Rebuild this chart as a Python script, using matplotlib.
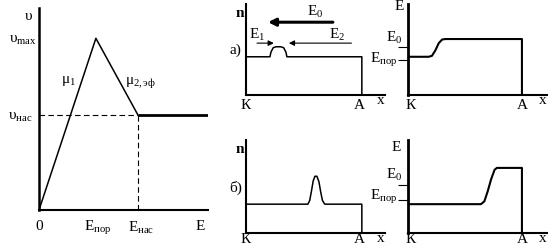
import matplotlib
matplotlib.use("Agg")
import matplotlib.pyplot as plt

plt.rcParams['font.family'] = ['Liberation Serif', 'DejaVu Serif']
plt.rcParams['mathtext.fontset'] = 'custom'
plt.rcParams['mathtext.rm'] = 'Liberation Serif'
plt.rcParams['mathtext.it'] = 'Liberation Serif:italic'

# left: drift velocity vs field strength
E_field = [0, 1.01, 1.757]
v_drift = [0, 0.85, 0.47]
E_flat = [1.757, 3.0]
v_flat = [0.47, 0.47]
E_thr, E_sat, v_sat = 1.01, 1.757, 0.47

# a) electron density along the sample, small domain near cathode
x_n_a = [0, 0.207, 0.215, 0.235, 0.26, 0.30, 0.325, 0.345, 0.353, 1.0, 1.0]
n_a = [0.42, 0.42, 0.47, 0.52, 0.53, 0.53, 0.52, 0.47, 0.42, 0.42, 0]
# a) field along the sample
x_E_a = [0, 0.18, 0.21, 0.24, 0.27, 0.30, 0.33, 1.0, 1.0]
E_a = [0.42, 0.42, 0.43, 0.49, 0.57, 0.61, 0.615, 0.615, 0]
E0_a, Ethr_a = 0.527, 0.385

# б) domain moved towards the anode
x_n_b = [0, 0.534, 0.55, 0.565, 0.58, 0.595, 0.612, 0.63, 0.645, 0.66, 0.68, 1.0, 1.0]
n_b = [0.31, 0.31, 0.35, 0.45, 0.56, 0.61, 0.61, 0.55, 0.44, 0.35, 0.31, 0.31, 0]
x_E_b = [0, 0.64, 0.67, 0.70, 0.73, 0.76, 0.78, 1.0, 1.0]
E_b = [0.31, 0.31, 0.34, 0.45, 0.58, 0.68, 0.70, 0.70, 0]
E0_b, Ethr_b = 0.516, 0.355

W, H = 548, 249
fig = plt.figure(figsize=(W / 100, H / 100), dpi=100)


def add_ax(x0, y_top, w, h):
    ax = fig.add_axes([x0 / W, 1 - (y_top + h) / H, w / W, h / H])
    ax.patch.set_alpha(0)
    for s in ['top', 'right']:
        ax.spines[s].set_visible(False)
    ax.set_xticks([])
    ax.set_yticks([])
    return ax


fs = 11
txt = dict(fontsize=fs, color='black')

# ---- left panel
ax = add_ax(39, 8, 169, 202)
ax.set_xlim(0, 3.0)
ax.set_ylim(0, 1)
ax.spines['left'].set_linewidth(1.8)
ax.spines['bottom'].set_linewidth(1.5)
ax.plot(E_field, v_drift, color='black', lw=1.1)
ax.plot(E_flat, v_flat, color='black', lw=2.0, solid_capstyle='butt')
ax.plot([0, E_sat], [v_sat, v_sat], color='black', lw=0.8, dashes=(5, 3))
ax.plot([E_sat, E_sat], [0, v_sat], color='black', lw=0.8, dashes=(5, 3))
ax.text(-0.18, 0.96, 'υ', ha='center', va='center', **txt)
ax.text(-0.03, 0.84, r'$\mathregular{υ_{max}}$', ha='right', va='center', **txt)
ax.text(-0.12, 0.46, r'$\mathregular{υ_{нас}}$', ha='right', va='center', **txt)
ax.text(0.52, 0.64, r'$\mathregular{μ_1}$', ha='center', va='center', **txt)
ax.text(1.53, 0.63, r'$\mathregular{μ_{2,эф}}$', ha='left', va='center', **txt)
ax.text(0, -0.08, '0', ha='center', va='center', **txt)
ax.text(E_thr + 0.04, -0.09, r'$\mathregular{E_{пор}}$', ha='center', va='center', **txt)
ax.text(E_sat + 0.05, -0.09, r'$\mathregular{E_{нас}}$', ha='center', va='center', **txt)
ax.text(2.86, -0.08, 'E', ha='center', va='center', **txt)


def n_panel(y_top, h, xs, ys, tag, lab_y):
    ax = add_ax(246, y_top, 139, h)
    ax.set_xlim(0, 1.2)
    ax.set_ylim(0, 1)
    ax.spines['left'].set_linewidth(1.5)
    ax.spines['bottom'].set_linewidth(1.5)
    ax.plot(xs, ys, color='black', lw=1.1)
    ax.text(-0.05, 0.90, 'n', ha='center', va='center', fontweight='bold', **txt)
    ax.text(-0.09, 0.49, tag, ha='center', va='center', **txt)
    ax.text(0, lab_y, 'К', ha='center', va='center', **txt)
    ax.text(0.98, lab_y, 'А', ha='center', va='center', **txt)
    ax.text(1.16, -0.06, 'x', ha='center', va='center', **txt)
    return ax


def E_panel(y_top, h, xs, ys, e0, ethr, e0_lab, ethr_lab, elab, lab_y):
    ax = add_ax(408, y_top, 139, h)
    ax.set_xlim(0, 1.22)
    ax.set_ylim(0, 1)
    ax.spines['left'].set_linewidth(2.0)
    ax.spines['bottom'].set_linewidth(1.5)
    ax.plot(xs, ys, color='black', lw=1.5)
    ax.set_yticks([e0, ethr])
    ax.set_yticklabels([])
    ax.tick_params(axis='y', length=7, width=0.8, direction='out')
    ax.text(elab[0], elab[1], 'E', ha='center', va='center', **txt)
    ax.text(-0.05, e0_lab, r'$\mathregular{E_0}$', ha='right', va='center', **txt)
    ax.text(-0.09, ethr_lab, r'$\mathregular{E_{пор}}$', ha='right', va='center', **txt)
    ax.text(0.02, lab_y, 'К', ha='center', va='center', **txt)
    ax.text(1.0, lab_y, 'А', ha='center', va='center', **txt)
    ax.text(1.18, -0.06, 'x', ha='center', va='center', **txt)
    return ax


axa = n_panel(4, 91, x_n_a, n_a, 'а)', -0.11)
axa.text(0.60, 0.91, r'$\mathregular{E_0}$', ha='center', va='center', **txt)
axa.text(0.10, 0.66, r'$\mathregular{E_1}$', ha='center', va='center', **txt)
axa.text(0.79, 0.66, r'$\mathregular{E_2}$', ha='center', va='center', **txt)
axa.annotate('', xy=(0.19, 0.80), xytext=(0.75, 0.80),
             arrowprops=dict(arrowstyle='-|>', lw=2.2, color='black',
                             mutation_scale=11, shrinkA=0, shrinkB=0))
axa.annotate('', xy=(0.24, 0.57), xytext=(0.095, 0.57),
             arrowprops=dict(arrowstyle='-|>', lw=0.8, color='black',
                             mutation_scale=8, shrinkA=0, shrinkB=0))
axa.annotate('', xy=(0.37, 0.57), xytext=(0.91, 0.57),
             arrowprops=dict(arrowstyle='-|>', lw=0.8, color='black',
                             mutation_scale=8, shrinkA=0, shrinkB=0))

n_panel(140, 93, x_n_b, n_b, 'б)', -0.075)

E_panel(4, 91, x_E_a, E_a, E0_a, Ethr_a, 0.63, 0.385, (-0.08, 0.97), -0.11)
E_panel(140, 93, x_E_b, E_b, E0_b, Ethr_b, 0.62, 0.39, (-0.105, 0.92), -0.075)

fig.savefig('out.png', dpi=100)
